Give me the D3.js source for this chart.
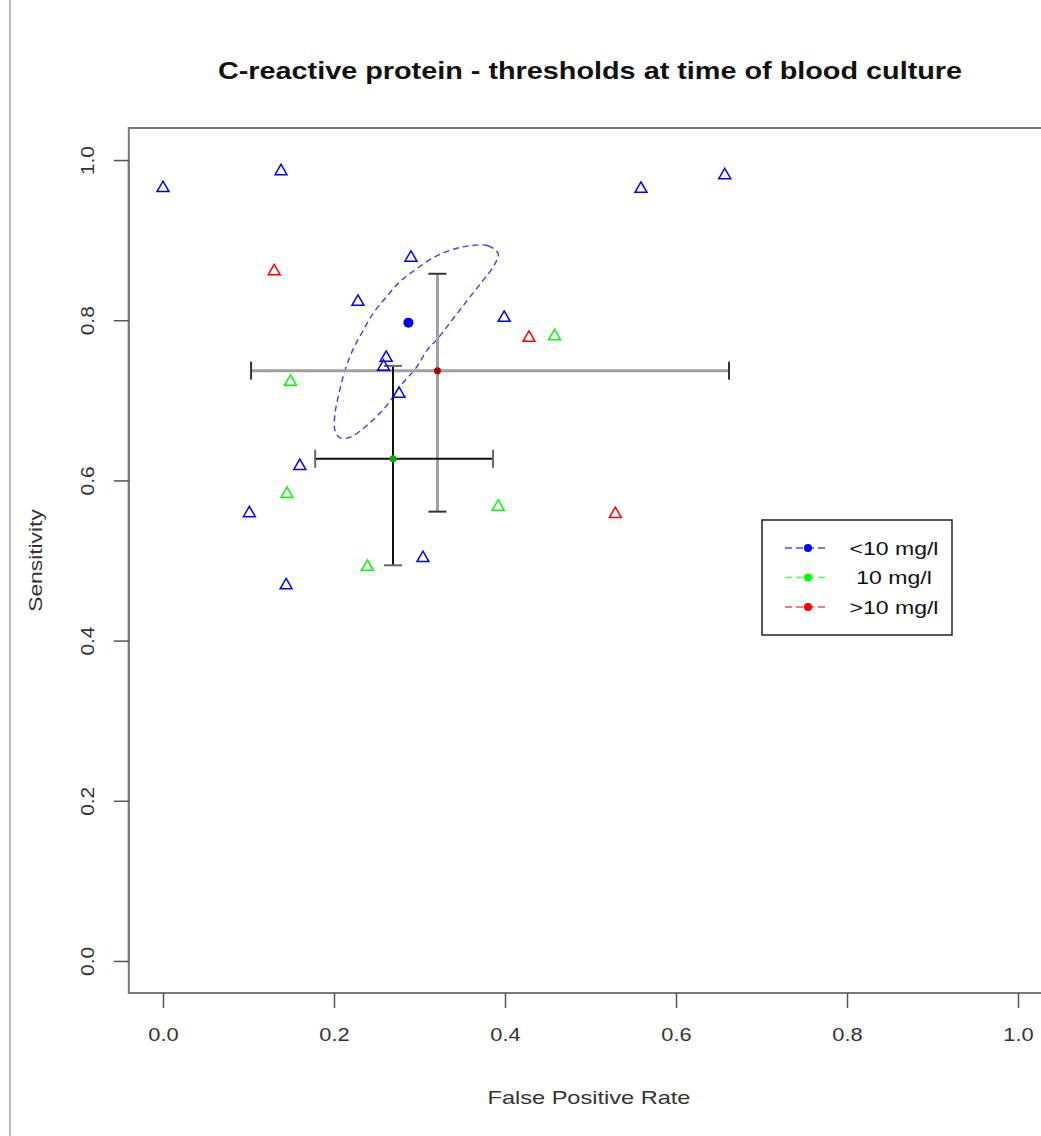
<!DOCTYPE html>
<html>
<head>
<meta charset="utf-8">
<script src="https://cdn.jsdelivr.net/npm/d3@7"></script>
<style>
  html, body { margin: 0; padding: 0; background: #fff; }
  svg { display: block; }
  text { font-family: "Liberation Sans", Arial, sans-serif; }
</style>
</head>
<body>
<svg id="chart" width="1041" height="1136"></svg>
<script>
// ---- data ----
const xTicks = [0.0, 0.2, 0.4, 0.6, 0.8, 1.0];
const yTicks = [0.0, 0.2, 0.4, 0.6, 0.8, 1.0];

// study points: [false positive rate, sensitivity]
const blueFPR  = [0.000, 0.138, 0.559, 0.657, 0.290, 0.228, 0.399, 0.261, 0.258, 0.276, 0.160, 0.101, 0.304, 0.144];
const blueSens = [0.965, 0.986, 0.964, 0.981, 0.878, 0.823, 0.803, 0.753, 0.742, 0.708, 0.618, 0.559, 0.503, 0.469];
const greenFPR  = [0.149, 0.145, 0.239, 0.392, 0.458];
const greenSens = [0.723, 0.583, 0.492, 0.567, 0.780];
const redFPR  = [0.130, 0.428, 0.529];
const redSens = [0.861, 0.778, 0.558];

// summary point for <10 mg/l
const blueSummary = [0.287, 0.797];
// confidence region outline (<10 mg/l)
const regionFPR  = [0.359, 0.380, 0.392, 0.387, 0.373, 0.356, 0.338, 0.322, 0.309, 0.297, 0.277, 0.262, 0.242, 0.219, 0.207, 0.201, 0.201, 0.204, 0.213, 0.222, 0.233, 0.246, 0.262, 0.277, 0.295, 0.316, 0.338];
const regionSens = [0.893, 0.893, 0.883, 0.868, 0.848, 0.825, 0.800, 0.778, 0.763, 0.742, 0.717, 0.694, 0.672, 0.654, 0.653, 0.663, 0.682, 0.700, 0.738, 0.763, 0.785, 0.809, 0.830, 0.848, 0.863, 0.878, 0.888];

// summary with error bars: [x, y, xLow, xHigh, yLow, yHigh]
const redSummary   = [0.321, 0.737, 0.103, 0.662, 0.561, 0.858];
const greenSummary = [0.269, 0.627, 0.178, 0.386, 0.494, 0.743];

const legendLabels = ["<10 mg/l", "10 mg/l", ">10 mg/l"];
const legendColors = ["#0000ff", "#00ff00", "#ff0000"];

const titleText = "C-reactive protein - thresholds at time of blood culture";
const xLabel = "False Positive Rate";
const yLabel = "Sensitivity";

// ---- layout ----
const svg = d3.select("#chart");
const x = d3.scaleLinear().domain([-0.04, 1.04]).range([128.8, 1052.2]);
const y = d3.scaleLinear().domain([-0.04, 1.04]).range([993, 128]);

// widen text horizontally (reference glyphs are stretched)
function stretch(sel, k) {
  sel.each(function () {
    const w = this.getComputedTextLength();
    d3.select(this).attr("textLength", w * k).attr("lengthAdjust", "spacingAndGlyphs");
  });
}

// left page border
svg.append("line").attr("x1", 10).attr("x2", 10).attr("y1", 0).attr("y2", 1136)
  .attr("stroke", "#bdbdbd").attr("stroke-width", 2);

// plot box
svg.append("rect").attr("x", x(-0.04)).attr("y", y(1.04))
  .attr("width", x(1.04) - x(-0.04)).attr("height", y(-0.04) - y(1.04))
  .attr("fill", "none").attr("stroke", "#7a7a7a").attr("stroke-width", 2);

// x axis
const xAxis = svg.append("g").attr("transform", `translate(0,${y(-0.04)})`)
  .call(d3.axisBottom(x).tickValues(xTicks).tickFormat(d3.format(".1f")).tickSize(15).tickPadding(20));
xAxis.select(".domain").attr("d", `M${x(0)},0H${x(1)}`).attr("stroke", "#7a7a7a").attr("stroke-width", 2);
xAxis.selectAll(".tick line").attr("stroke", "#555").attr("stroke-width", 1.5);
xAxis.selectAll(".tick text").attr("font-size", 19).attr("fill", "#333")
  .attr("font-family", "'Liberation Sans', Arial, sans-serif");
stretch(xAxis.selectAll(".tick text"), 1.15);

// y axis
const yAxis = svg.append("g").attr("transform", `translate(${x(-0.04)},0)`)
  .call(d3.axisLeft(y).tickValues(yTicks).tickFormat(d3.format(".1f")).tickSize(15).tickPadding(0));
yAxis.select(".domain").attr("d", `M0,${y(0)}V${y(1)}`).attr("stroke", "#7a7a7a").attr("stroke-width", 2);
yAxis.selectAll(".tick line").attr("stroke", "#555").attr("stroke-width", 1.5);
yAxis.selectAll(".tick text")
  .attr("font-size", 19).attr("fill", "#333")
  .attr("font-family", "'Liberation Sans', Arial, sans-serif")
  .attr("text-anchor", "middle").attr("x", 0).attr("dy", 0)
  .attr("transform", "translate(-40,0) rotate(-90)")
  .attr("dominant-baseline", "middle");
stretch(yAxis.selectAll(".tick text"), 1.1);

// title and axis labels
const title = svg.append("text").attr("x", 590).attr("y", 79).attr("text-anchor", "middle")
  .attr("font-size", 24).attr("font-weight", "bold").attr("fill", "#111")
  .text(titleText);
stretch(title, 1.2);
const xl = svg.append("text").attr("x", 589).attr("y", 1104).attr("text-anchor", "middle")
  .attr("font-size", 19).attr("fill", "#333").text(xLabel);
stretch(xl, 1.24);
const yl = svg.append("text").attr("transform", `translate(42,${y(0.5)}) rotate(-90)`)
  .attr("text-anchor", "middle").attr("font-size", 19).attr("fill", "#333").text(yLabel);
stretch(yl, 1.2);

// confidence region
const regionPts = regionFPR.map((d, i) => [x(d), y(regionSens[i])]);
svg.append("path").attr("d", d3.line().curve(d3.curveCatmullRomClosed)(regionPts))
  .attr("fill", "none").attr("stroke", "#3b3bff").attr("stroke-width", 1.4)
  .attr("stroke-dasharray", "6,4");

// error bars
function errorBars(s, color, width, capColor) {
  const g = svg.append("g");
  const cap = 9;
  g.append("line").attr("x1", x(s[2])).attr("x2", x(s[3])).attr("y1", y(s[1])).attr("y2", y(s[1]))
    .attr("stroke", color).attr("stroke-width", width);
  g.append("line").attr("x1", x(s[0])).attr("x2", x(s[0])).attr("y1", y(s[4])).attr("y2", y(s[5]))
    .attr("stroke", color).attr("stroke-width", width);
  [s[2], s[3]].forEach(v => g.append("line").attr("x1", x(v)).attr("x2", x(v))
    .attr("y1", y(s[1]) - cap).attr("y2", y(s[1]) + cap).attr("stroke", capColor).attr("stroke-width", 2));
  [s[4], s[5]].forEach(v => g.append("line").attr("y1", y(v)).attr("y2", y(v))
    .attr("x1", x(s[0]) - cap).attr("x2", x(s[0]) + cap).attr("stroke", capColor).attr("stroke-width", 2));
}
errorBars(redSummary, "#a0a0a0", 3, "#333");
errorBars(greenSummary, "#111", 2, "#666");

// triangles
const tri = d3.symbol().type(d3.symbolTriangle).size(62);
function triangles(xs, ys, color) {
  svg.append("g").selectAll("path").data(xs).join("path")
    .attr("d", tri)
    .attr("transform", (d, i) => `translate(${x(d)},${y(ys[i])})`)
    .attr("fill", "none").attr("stroke", color).attr("stroke-width", 1.5);
}
triangles(blueFPR, blueSens, "#0000ff");
triangles(greenFPR, greenSens, "#00ff00");
triangles(redFPR, redSens, "#ff0000");

// summary points
svg.append("circle").attr("cx", x(blueSummary[0])).attr("cy", y(blueSummary[1])).attr("r", 5).attr("fill", "#0000ff");
svg.append("circle").attr("cx", x(redSummary[0])).attr("cy", y(redSummary[1])).attr("r", 3.5).attr("fill", "#b00000");
svg.append("circle").attr("cx", x(greenSummary[0])).attr("cy", y(greenSummary[1])).attr("r", 3.5).attr("fill", "#00b000");

// legend
const lg = svg.append("g");
lg.append("rect").attr("x", 762).attr("y", 520).attr("width", 190).attr("height", 115)
  .attr("fill", "#fff").attr("stroke", "#222").attr("stroke-width", 1.5);
legendLabels.forEach((lab, i) => {
  const ly = 548 + i * 29.5;
  lg.append("line").attr("x1", 785).attr("x2", 827).attr("y1", ly).attr("y2", ly)
    .attr("stroke", legendColors[i]).attr("stroke-width", 1.3).attr("stroke-dasharray", "7,4").attr("opacity", 0.7);
  lg.append("circle").attr("cx", 808).attr("cy", ly).attr("r", 4).attr("fill", legendColors[i]);
  const t = lg.append("text").attr("x", 894).attr("y", ly + 6.5).attr("text-anchor", "middle")
    .attr("font-size", 18).attr("fill", "#111").text(lab);
  stretch(t, 1.28);
});
</script>
</body>
</html>
